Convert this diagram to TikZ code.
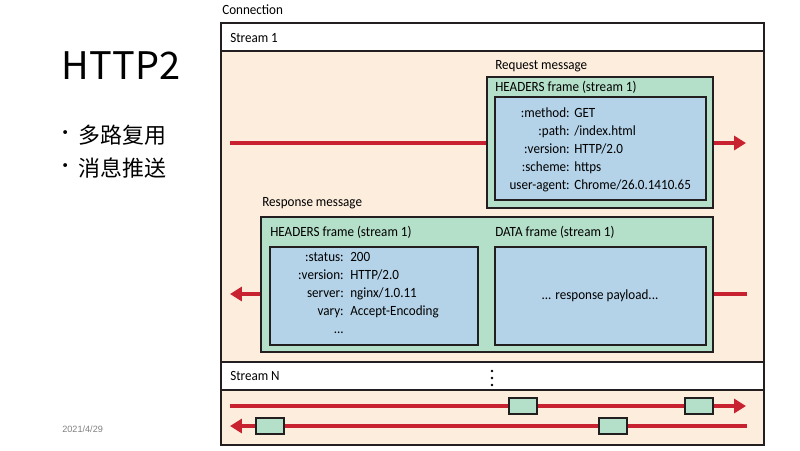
\documentclass[tikz,border=0pt]{standalone}
\usepackage{fontspec}
\setmainfont[FakeStretch=0.93]{Carlito}
\newfontfamily\cjkfont{Noto Sans CJK SC}
\newfontfamily\datefont{Liberation Sans}
\usetikzlibrary{arrows.meta}

\definecolor{streambg}{RGB}{252,237,221}
\definecolor{framegreen}{RGB}{180,223,201}
\definecolor{payloadblue}{RGB}{180,211,233}
\definecolor{flowred}{RGB}{200,33,47}
\definecolor{boxline}{RGB}{35,31,32}
\definecolor{dategray}{RGB}{128,128,128}

\tikzset{
  lbl/.style={font=\fontsize{10}{12.76}\selectfont, inner sep=0pt, anchor=west},
  keys/.style={lbl, align=right, anchor=base east},
  vals/.style={lbl, align=left, anchor=base west},
  framebox/.style={draw=boxline, line width=1.1pt, fill=framegreen},
  payload/.style={draw=boxline, line width=1.1pt, fill=payloadblue},
  flow/.style={draw=flowred, line width=2.2pt, -{Triangle[length=8.5pt,width=10pt]}},
  chunk/.style={draw=boxline, line width=1pt, fill=framegreen, inner sep=0pt,
    minimum width=28*0.025cm, minimum height=16*0.025cm},
}

\begin{document}
\begin{tikzpicture}[x=0.025cm, y=-0.025cm]
\useasboundingbox (0,0) rectangle (800,450);

% slide text
\node[font=\cjkfont\fontsize{27}{30}\selectfont, inner sep=0pt] (title) at (121,66) {HTTP2};
\node[font=\cjkfont\fontsize{13}{15}\selectfont, inner sep=0pt] (b1) at (66,135) {•};
\node[font=\cjkfont\fontsize{15.6}{18}\selectfont, inner sep=0pt, anchor=west] (mux) at (78,135) {多路复用};
\node[font=\cjkfont\fontsize{13}{15}\selectfont, inner sep=0pt] (b2) at (66,168) {•};
\node[font=\cjkfont\fontsize{15.6}{18}\selectfont, inner sep=0pt, anchor=west] (push) at (78,168) {消息推送};
\node[font=\datefont\fontsize{6.5}{8}\selectfont, text=dategray, inner sep=0pt, anchor=west] (date) at (62,429) {2021/4/29};

% connection and streams
\node[lbl] (conn) at (222,10) {Connection};
\fill[streambg] (221,51) rectangle (764,362);
\fill[streambg] (221,390) rectangle (764,445);
\draw[boxline, line width=1.1pt, fill=white] (221,23) rectangle (764,51);
\draw[boxline, line width=1.1pt, fill=white] (221,362) rectangle (764,390);
\draw[boxline, line width=1.1pt] (221,23) rectangle (764,445);
\node[lbl] (s1) at (230,38) {Stream 1};
\node[lbl] (sn) at (230,376) {Stream N};
\foreach \y in {371,378,385}
  \fill[black] (492,\y) circle (1.4);

% flows
\coordinate (reqL) at (230,143);
\coordinate (reqR) at (746,143);
\coordinate (resL) at (230,294);
\coordinate (resR) at (747,294);
\coordinate (upL) at (230,406);
\coordinate (upR) at (746,406);
\coordinate (dnL) at (230,426);
\coordinate (dnR) at (747,426);
\draw[flow] (reqL) -- (reqR);
\draw[flow] (resR) -- (resL);
\draw[flow] (upL) -- (upR);
\draw[flow] (dnR) -- (dnL);

% request message
\node[lbl] (reqmsg) at (495,66) {Request message};
\draw[framebox] (487,77) rectangle (713,208);
\node[lbl] (reqhdr) at (495,87) {HEADERS frame (stream 1)};
\draw[payload] (495,97) rectangle (706,200);
\node[keys] (reqkeys) at (570,189) {:method:\\:path:\\:version:\\:scheme:\\user-agent:};
\node[vals] (reqvals) at (574,189) {GET\\/index.html\\HTTP/2.0\\https\\Chrome/26.0.1410.65};

% response message
\node[lbl] (resmsg) at (262,203) {Response message};
\draw[framebox] (261,217) rectangle (713,352);
\node[lbl] (reshdr) at (270,232) {HEADERS frame (stream 1)};
\node[lbl] (resdata) at (495,232) {DATA frame (stream 1)};
\draw[payload] (270,247) rectangle (478,345);
\draw[payload] (495,247) rectangle (706,345);
\node[keys] (reskeys) at (344,333) {:status:\\:version:\\server:\\vary:\\...};
\node[vals] (resvals) at (350,315) {200\\HTTP/2.0\\nginx/1.0.11\\Accept-Encoding};
\node[lbl, anchor=center] (body) at (600,296) {... response payload...};

% interleaved frames of stream N
\node[chunk] (up1) at (523,406) {};
\node[chunk] (up2) at (699,406) {};
\node[chunk] (dn1) at (270,426) {};
\node[chunk] (dn2) at (613,426) {};
\end{tikzpicture}
\end{document}
